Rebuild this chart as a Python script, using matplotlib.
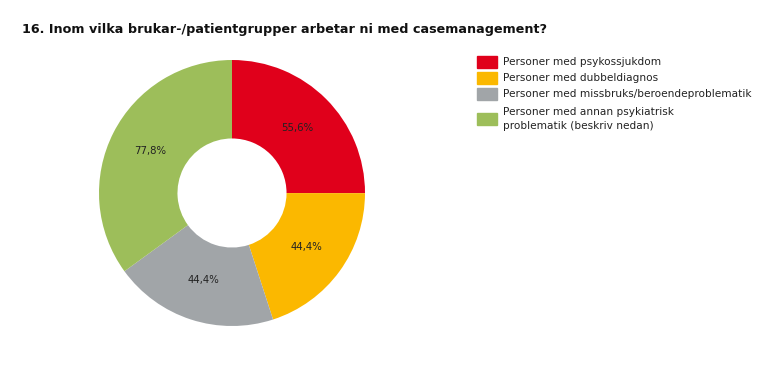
import matplotlib
matplotlib.use("Agg")
import matplotlib.pyplot as plt
from matplotlib.patches import Rectangle
import numpy as np

title = "16. Inom vilka brukar-/patientgrupper arbetar ni med casemanagement?"
categories = ["Personer med psykossjukdom",
              "Personer med dubbeldiagnos",
              "Personer med missbruks/beroendeproblematik",
              "Personer med annan psykiatrisk\nproblematik (beskriv nedan)"]
values = [55.6, 44.4, 44.4, 77.8]
labels = ["55,6%", "44,4%", "44,4%", "77,8%"]
colors = ["#E0001B", "#FBB800", "#A1A5A8", "#9DBE5A"]

W, H = 777, 365
fig = plt.figure(figsize=(W/100, H/100), dpi=100)
fig.patch.set_facecolor("white")

cx, cy, R = 232, 193, 133
ax = fig.add_axes([(cx-R)/W, 1-(cy+R)/H, 2*R/W, 2*R/H])
wedges, _ = ax.pie(values, colors=colors, startangle=90, counterclock=False,
                   radius=1.0, wedgeprops=dict(width=0.59, linewidth=0))
tot = sum(values)
ang = 90
for v, lab in zip(values, labels):
    a = ang - v/tot*360/2
    ang -= v/tot*360
    r = 0.69
    ax.text(r*np.cos(np.radians(a)), r*np.sin(np.radians(a)), lab,
            ha="center", va="center", fontsize=7.3, color="#222222")
ax.set_xlim(-1, 1); ax.set_ylim(-1, 1)
ax.set_aspect("equal")
ax.axis("off")

fig.text(22/W, 1-30/H, title, fontsize=9.2, fontweight="bold",
         ha="left", va="center", color="#111111")

rows_y = [62, 78, 94, 119]
for y, c, lab in zip(rows_y, colors, categories):
    fig.patches.append(Rectangle((477/W, 1-(y+6)/H), 20/W, 12/H,
                                 transform=fig.transFigure, color=c))
    fig.text(503/W, 1-y/H, lab, fontsize=7.6, ha="left", va="center",
             color="#222222", linespacing=1.45)

fig.savefig("out.png", dpi=100, facecolor="white")
